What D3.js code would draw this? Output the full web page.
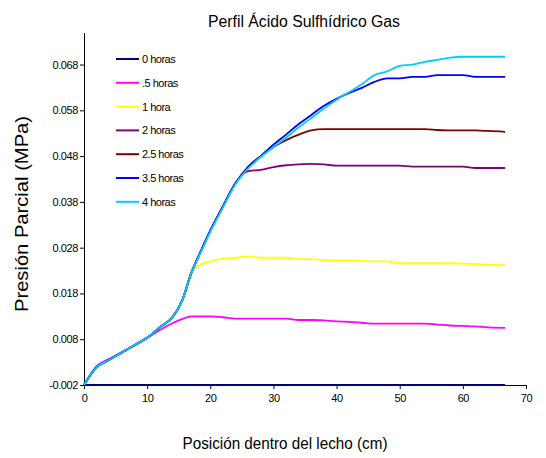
<!DOCTYPE html>
<html>
<head>
<meta charset="utf-8">
<script src="https://cdn.jsdelivr.net/npm/d3@7"></script>
<style>
  body { margin: 0; background: #fff; }
  svg { display: block; font-family: "Liberation Sans", Arial, sans-serif; }
</style>
</head>
<body>
<svg id="chart" width="546" height="458"></svg>
<script>
// positions along the bed (cm)
const posicion = [0, 2, 4, 6, 8, 10, 12, 14, 15.5, 17, 18.5, 20, 22, 24, 26, 28, 30, 32, 34, 36,
                  38, 40, 42, 44, 46, 48, 50, 52, 54, 56, 58, 60, 62, 64, 66.7];

const horas0 = [-0.002, -0.002, -0.002, -0.002, -0.002, -0.002, -0.002, -0.002, -0.002, -0.002, -0.002, -0.002,
                -0.002, -0.002, -0.002, -0.002, -0.002, -0.002, -0.002, -0.002, -0.002, -0.002, -0.002, -0.002,
                -0.002, -0.002, -0.002, -0.002, -0.002, -0.002, -0.002, -0.002, -0.002, -0.002, -0.002];
const horas05 = [-0.002, 0.0021, 0.0037, 0.0052, 0.0067, 0.0083, 0.0100, 0.0115, 0.0124, 0.0130, 0.0130, 0.0130,
                 0.0128, 0.0125, 0.0125, 0.0125, 0.0125, 0.0125, 0.0122, 0.0122, 0.0121, 0.0119, 0.0118, 0.0116,
                 0.0114, 0.0114, 0.0114, 0.0114, 0.0114, 0.0112, 0.0110, 0.0109, 0.0108, 0.0106, 0.0105];
const horas1 = [-0.002, 0.0019, 0.0035, 0.0051, 0.0067, 0.0083, 0.0106, 0.0128, 0.0163, 0.0227, 0.0243, 0.0250,
                0.0256, 0.0258, 0.0261, 0.0258, 0.0258, 0.0258, 0.0255, 0.0255, 0.0253, 0.0252, 0.0252, 0.0251,
                0.0250, 0.0250, 0.0246, 0.0246, 0.0246, 0.0246, 0.0246, 0.0245, 0.0244, 0.0243, 0.0242];
const horas2 = [-0.002, 0.0019, 0.0035, 0.0051, 0.0067, 0.0083, 0.0106, 0.0128, 0.0163, 0.0225, 0.0272, 0.0317,
                0.0370, 0.0421, 0.0447, 0.0450, 0.0456, 0.0460, 0.0462, 0.0463, 0.0462, 0.0459, 0.0459, 0.0459,
                0.0459, 0.0459, 0.0459, 0.0457, 0.0457, 0.0457, 0.0457, 0.0457, 0.0454, 0.0454, 0.0454];
const horas25 = [-0.002, 0.0019, 0.0035, 0.0051, 0.0067, 0.0083, 0.0106, 0.0128, 0.0163, 0.0225, 0.0272, 0.0317,
                 0.0370, 0.0421, 0.0457, 0.0480, 0.0500, 0.0515, 0.0527, 0.0536, 0.0539, 0.0539, 0.0539, 0.0539,
                 0.0539, 0.0539, 0.0539, 0.0539, 0.0539, 0.0537, 0.0536, 0.0536, 0.0536, 0.0535, 0.0533];
const horas35 = [-0.002, 0.0019, 0.0035, 0.0051, 0.0067, 0.0083, 0.0106, 0.0128, 0.0163, 0.0225, 0.0272, 0.0317,
                 0.0370, 0.0421, 0.0455, 0.0480, 0.0505, 0.0527, 0.0550, 0.0570, 0.0590, 0.0605, 0.0618, 0.0629,
                 0.0642, 0.0650, 0.0650, 0.0653, 0.0653, 0.0657, 0.0657, 0.0657, 0.0653, 0.0653, 0.0653];
const horas4 = [-0.002, 0.0019, 0.0035, 0.0051, 0.0067, 0.0083, 0.0106, 0.0128, 0.0163, 0.0225, 0.0270, 0.0315,
                0.0368, 0.0419, 0.0453, 0.0478, 0.0500, 0.0520, 0.0543, 0.0563, 0.0584, 0.0603, 0.0620, 0.0637,
                0.0657, 0.0665, 0.0677, 0.0680, 0.0686, 0.0690, 0.0695, 0.0697, 0.0697, 0.0697, 0.0697];

const nombres = ["0 horas", ".5 horas", "1 hora", "2 horas", "2.5 horas", "3.5 horas", "4 horas"];
const colores = ["#000080", "#ff00ff", "#ffff00", "#800080", "#800000", "#0000ff", "#00ccff"];
const valores = [horas0, horas05, horas1, horas2, horas25, horas35, horas4];

const yTicks = [-0.002, 0.008, 0.018, 0.028, 0.038, 0.048, 0.058, 0.068];
const xTicks = [0, 10, 20, 30, 40, 50, 60, 70];

let svg = d3.select("#chart");

let xScale = d3.scaleLinear().domain([0, 70]).range([84, 526]);
let yScale = d3.scaleLinear().domain([-0.002, 0.075]).range([385, 32.5]);

// axes
let xAxis = d3.axisBottom(xScale).tickValues(xTicks).tickSize(4).tickSizeOuter(0);
let gx = svg.append("g")
    .attr("transform", "translate(0," + yScale(-0.002) + ")")
    .call(xAxis);

let yAxis = d3.axisLeft(yScale).tickValues(yTicks).tickSize(4).tickSizeOuter(0)
    .tickFormat(d => d.toFixed(3));
let gy = svg.append("g")
    .attr("transform", "translate(" + xScale(0) + ",0)")
    .call(yAxis);

svg.selectAll(".domain").attr("stroke", "#000").attr("stroke-width", 1);
svg.selectAll(".tick line").attr("stroke", "#000");
svg.selectAll(".tick text")
    .attr("fill", "#000")
    .style("font-size", "11px")
    .style("font-family", "Liberation Sans, Arial, sans-serif")
    .style("letter-spacing", "-0.4px");
gx.selectAll(".tick text").attr("dy", "0.95em");
gy.selectAll(".tick text").attr("x", -6);

// series lines
let line = d3.line()
    .x((d, i) => xScale(posicion[i]))
    .y(d => yScale(d))
    .curve(d3.curveMonotoneX);

svg.append("g").selectAll("path")
    .data(valores)
    .enter().append("path")
    .attr("d", d => line(d))
    .attr("fill", "none")
    .attr("stroke", (d, i) => colores[i])
    .attr("stroke-width", 1.8);

// legend
let legend = svg.append("g").selectAll("g")
    .data(nombres)
    .enter().append("g")
    .attr("transform", (d, i) => "translate(116," + (59 + i * 23.8) + ")");
legend.append("line")
    .attr("x1", 0).attr("x2", 23)
    .attr("stroke", (d, i) => colores[i])
    .attr("stroke-width", 2);
legend.append("text")
    .attr("x", 26).attr("y", 4)
    .style("font-size", "11px")
    .style("letter-spacing", "-0.5px")
    .text(d => d);

// titles
svg.append("text")
    .attr("x", 304).attr("y", 27)
    .attr("text-anchor", "middle")
    .attr("textLength", 192).attr("lengthAdjust", "spacingAndGlyphs")
    .style("font-size", "16px")
    .text("Perfil Ácido Sulfhídrico Gas");

svg.append("text")
    .attr("x", 285).attr("y", 449)
    .attr("text-anchor", "middle")
    .attr("textLength", 205).attr("lengthAdjust", "spacingAndGlyphs")
    .style("font-size", "16px")
    .text("Posición dentro del lecho (cm)");

svg.append("text")
    .attr("transform", "translate(28,214) rotate(-90)")
    .attr("text-anchor", "middle")
    .attr("textLength", 196).attr("lengthAdjust", "spacingAndGlyphs")
    .style("font-size", "18px")
    .text("Presión Parcial (MPa)");
</script>
</body>
</html>
